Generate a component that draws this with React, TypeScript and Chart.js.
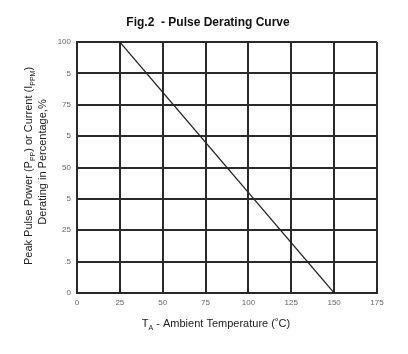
import React, { useEffect, useRef } from "react";
import { Chart, registerables } from "chart.js";

Chart.register(...registerables);

const temperature = [25, 150];
const derating = [100, 0];
const xTicks = [0, 25, 50, 75, 100, 125, 150, 175];
const yTickLabels = ["0", ".5", "25", "5", "50", "5", "75", "5", "100"];
const titleText = "Fig.2  - Pulse Derating Curve";
const yTitle1 = [
  { t: "Peak Pulse Power (P", sub: false },
  { t: "PP", sub: true },
  { t: ") or Current (I", sub: false },
  { t: "PPM", sub: true },
  { t: ")", sub: false },
];
const yTitle2 = "Derating in Percentage,%";
const xTitle = [
  { t: "T", sub: false },
  { t: "A", sub: true },
  { t: " - Ambient Temperature (˚C)", sub: false },
];

const FONT = "'Liberation Sans', Arial, sans-serif";

function drawRich(ctx: CanvasRenderingContext2D, parts: { t: string; sub: boolean }[], cx: number, y: number, size: number) {
  const main = `${size}px ${FONT}`;
  const subF = `${Math.round(size * 0.62)}px ${FONT}`;
  let total = 0;
  for (const p of parts) {
    ctx.font = p.sub ? subF : main;
    total += ctx.measureText(p.t).width;
  }
  let x = cx - total / 2;
  for (const p of parts) {
    ctx.font = p.sub ? subF : main;
    ctx.fillText(p.t, x, p.sub ? y + 3 : y);
    x += ctx.measureText(p.t).width;
  }
}

const textPlugin = {
  id: "customText",
  afterDraw(chart: any) {
    const ctx = chart.ctx as CanvasRenderingContext2D;
    ctx.save();
    ctx.fillStyle = "#111";
    ctx.textBaseline = "alphabetic";
    ctx.textAlign = "left";
    ctx.font = `bold 12px ${FONT}`;
    const tw = ctx.measureText(titleText).width;
    ctx.fillText(titleText, 208 - tw / 2, 26);
    ctx.fillStyle = "#222";
    drawRich(ctx, xTitle, 216, 327, 11);
    ctx.translate(0, 166);
    ctx.rotate(-Math.PI / 2);
    drawRich(ctx, yTitle1, 0, 32, 11);
    drawRich(ctx, [{ t: yTitle2, sub: false }], 4, 46, 11);
    ctx.restore();
  },
};

export default function App() {
  const ref = useRef<HTMLCanvasElement>(null);
  useEffect(() => {
    document.body.style.margin = "0";
    const chart = new Chart(ref.current!, {
      type: "scatter",
      data: {
        datasets: [
          {
            data: temperature.map((x, i) => ({ x, y: derating[i] })),
            showLine: true,
            borderColor: "#222",
            borderWidth: 1.2,
            pointRadius: 0,
          },
        ],
      },
      options: {
        animation: false,
        responsive: false,
        layout: { padding: { left: 0, top: 42, right: 31, bottom: 0 } },
        plugins: { legend: { display: false }, tooltip: { enabled: false }, title: { display: false } },
        scales: {
          x: {
            type: "linear",
            min: 0,
            max: 175,
            afterFit: (s: any) => { s.height = 61; },
            afterBuildTicks: (s: any) => { s.ticks = xTicks.map((v) => ({ value: v })); },
            ticks: { color: "#666", font: { size: 8, family: FONT }, padding: 5, maxRotation: 0 },
            grid: { color: "#2a2a2a", lineWidth: 2, drawTicks: false },
            border: { color: "#2a2a2a", width: 2 },
          },
          y: {
            min: 0,
            max: 100,
            afterFit: (s: any) => { s.width = 77; },
            afterBuildTicks: (s: any) => { s.ticks = yTickLabels.map((_, i) => ({ value: i * 12.5 })); },
            ticks: {
              color: "#666",
              font: { size: 8, family: FONT },
              padding: 6,
              callback: (_v: any, i: number) => yTickLabels[i],
            },
            grid: { color: "#2a2a2a", lineWidth: 2, drawTicks: false },
            border: { color: "#2a2a2a", width: 2 },
          },
        },
      },
      plugins: [textPlugin],
    });
    return () => chart.destroy();
  }, []);
  return (
    <div style={{ position: "fixed", left: 0, top: 0, width: 408, height: 354, background: "#fff" }}>
      <canvas ref={ref} width={408} height={354} />
    </div>
  );
}
